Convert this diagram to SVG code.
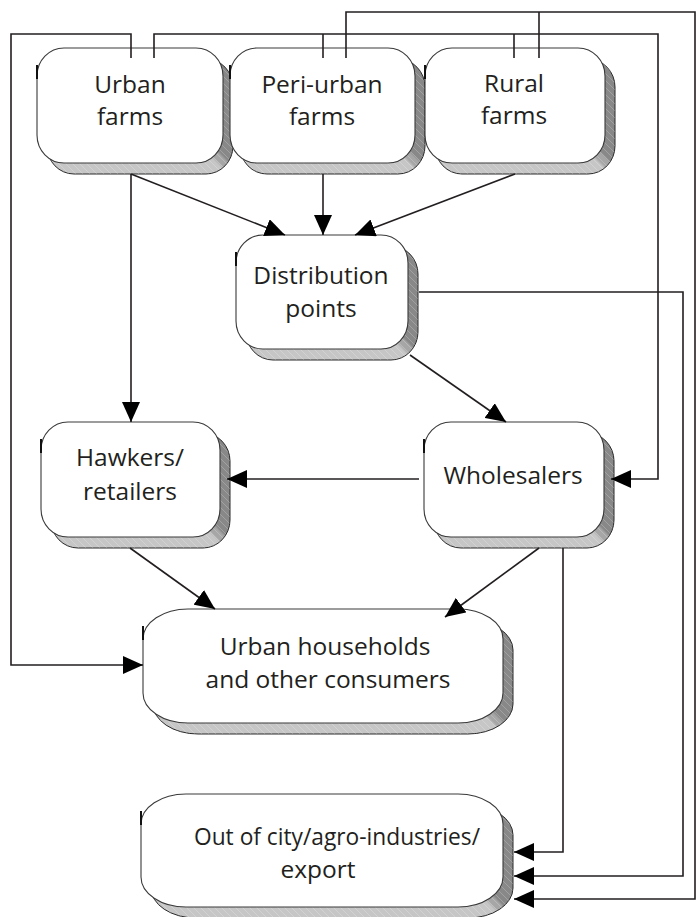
<svg xmlns="http://www.w3.org/2000/svg" width="696" height="917" viewBox="0 0 696 917">
<style>
.face{fill:#fff;stroke:#3a3a3a;stroke-width:1.1}
.sh{stroke:#2a2a2a;stroke-width:1}
.hat{fill:url(#hatch);stroke:none}
.tick{stroke:#111;stroke-width:2}
.t{font-family:"Open Sans","Liberation Sans",sans-serif;font-size:24.5px;fill:#231f20;text-anchor:middle}
.c{fill:none;stroke:#231f20;stroke-width:1.6}
.a{marker-end:url(#ah)}
.s1{stop-color:#c6c6c6}
.s2{stop-color:#a6a6a6}
.s3{stop-color:#888888}
</style>
<defs>
<marker id="ah" markerWidth="20" markerHeight="18" refX="20" refY="9" orient="auto" markerUnits="userSpaceOnUse"><path d="M0,0 L20,9 L0,18 z" fill="#000"/></marker>
<pattern id="hatch" width="7" height="7" patternUnits="userSpaceOnUse"><path d="M-1,-1 L8,8" stroke="#fff" stroke-width="0.6" opacity="0.35"/></pattern>
<linearGradient id="g1" gradientUnits="userSpaceOnUse" x1="206" y1="174" x2="234" y2="146"><stop offset="0.38" class="s1"/><stop offset="0.45" class="s2"/><stop offset="0.58" class="s2"/><stop offset="0.64" class="s3"/></linearGradient>
<linearGradient id="g2" gradientUnits="userSpaceOnUse" x1="398" y1="174" x2="426" y2="146"><stop offset="0.38" class="s1"/><stop offset="0.45" class="s2"/><stop offset="0.58" class="s2"/><stop offset="0.64" class="s3"/></linearGradient>
<linearGradient id="g3" gradientUnits="userSpaceOnUse" x1="588" y1="174" x2="616" y2="146"><stop offset="0.38" class="s1"/><stop offset="0.45" class="s2"/><stop offset="0.58" class="s2"/><stop offset="0.64" class="s3"/></linearGradient>
<linearGradient id="g4" gradientUnits="userSpaceOnUse" x1="391" y1="360" x2="419" y2="332"><stop offset="0.38" class="s1"/><stop offset="0.45" class="s2"/><stop offset="0.58" class="s2"/><stop offset="0.64" class="s3"/></linearGradient>
<linearGradient id="g5" gradientUnits="userSpaceOnUse" x1="203" y1="548" x2="231" y2="520"><stop offset="0.38" class="s1"/><stop offset="0.45" class="s2"/><stop offset="0.58" class="s2"/><stop offset="0.64" class="s3"/></linearGradient>
<linearGradient id="g6" gradientUnits="userSpaceOnUse" x1="587" y1="548" x2="615" y2="520"><stop offset="0.38" class="s1"/><stop offset="0.45" class="s2"/><stop offset="0.58" class="s2"/><stop offset="0.64" class="s3"/></linearGradient>
<linearGradient id="g7" gradientUnits="userSpaceOnUse" x1="481" y1="734" x2="509" y2="706"><stop offset="0.38" class="s1"/><stop offset="0.45" class="s2"/><stop offset="0.58" class="s2"/><stop offset="0.64" class="s3"/></linearGradient>
<linearGradient id="g8" gradientUnits="userSpaceOnUse" x1="481" y1="918" x2="509" y2="890"><stop offset="0.38" class="s1"/><stop offset="0.45" class="s2"/><stop offset="0.58" class="s2"/><stop offset="0.64" class="s3"/></linearGradient>
</defs>

<g id="urban-farms">
<rect class="sh" x="47" y="59" width="186" height="115" rx="27" ry="28" fill="url(#g1)"/>
<rect class="hat" x="47" y="59" width="186" height="115" rx="27" ry="28"/>
<rect class="face" x="37" y="48" width="186" height="115" rx="27" ry="28"/>
<line class="tick" x1="37" y1="65" x2="37" y2="79"/>
<text class="t" x="130" y="93">Urban</text>
<text class="t" x="130" y="125">farms</text>
</g>

<g id="peri-urban-farms">
<rect class="sh" x="240" y="59" width="185" height="115" rx="27" ry="28" fill="url(#g2)"/>
<rect class="hat" x="240" y="59" width="185" height="115" rx="27" ry="28"/>
<rect class="face" x="230" y="48" width="185" height="115" rx="27" ry="28"/>
<line class="tick" x1="230" y1="65" x2="230" y2="79"/>
<text class="t" x="322" y="93">Peri-urban</text>
<text class="t" x="322" y="125">farms</text>
</g>

<g id="rural-farms">
<rect class="sh" x="435" y="59" width="180" height="115" rx="27" ry="28" fill="url(#g3)"/>
<rect class="hat" x="435" y="59" width="180" height="115" rx="27" ry="28"/>
<rect class="face" x="425" y="48" width="180" height="115" rx="27" ry="28"/>
<line class="tick" x1="425" y1="65" x2="425" y2="79"/>
<text class="t" x="514" y="92">Rural</text>
<text class="t" x="514" y="124">farms</text>
</g>

<g id="distribution-points">
<rect class="sh" x="246" y="246" width="172" height="114" rx="27" ry="28" fill="url(#g4)"/>
<rect class="hat" x="246" y="246" width="172" height="114" rx="27" ry="28"/>
<rect class="face" x="236" y="235" width="172" height="114" rx="27" ry="28"/>
<line class="tick" x1="236" y1="252" x2="236" y2="266"/>
<text class="t" x="321" y="284">Distribution</text>
<text class="t" x="321" y="317">points</text>
</g>

<g id="hawkers-retailers">
<rect class="sh" x="51" y="433" width="179" height="115" rx="27" ry="28" fill="url(#g5)"/>
<rect class="hat" x="51" y="433" width="179" height="115" rx="27" ry="28"/>
<rect class="face" x="41" y="422" width="179" height="115" rx="27" ry="28"/>
<line class="tick" x1="41" y1="439" x2="41" y2="453"/>
<text class="t" x="130" y="466">Hawkers/</text>
<text class="t" x="130" y="500">retailers</text>
</g>

<g id="wholesalers">
<rect class="sh" x="434" y="433" width="180" height="115" rx="27" ry="28" fill="url(#g6)"/>
<rect class="hat" x="434" y="433" width="180" height="115" rx="27" ry="28"/>
<rect class="face" x="424" y="422" width="180" height="115" rx="27" ry="28"/>
<line class="tick" x1="424" y1="439" x2="424" y2="453"/>
<text class="t" x="513" y="484">Wholesalers</text>
</g>

<g id="urban-households">
<rect class="sh" x="153" y="620" width="360" height="114" rx="45" ry="30" fill="url(#g7)"/>
<rect class="hat" x="153" y="620" width="360" height="114" rx="45" ry="30"/>
<rect class="face" x="143" y="609" width="360" height="114" rx="45" ry="30"/>
<line class="tick" x1="143" y1="626" x2="143" y2="640"/>
<text class="t" x="325" y="655">Urban households</text>
<text class="t" x="328" y="688">and other consumers</text>
</g>

<g id="out-of-city">
<rect class="sh" x="151" y="805" width="362" height="113" rx="45" ry="30" fill="url(#g8)"/>
<rect class="hat" x="151" y="805" width="362" height="113" rx="45" ry="30"/>
<rect class="face" x="141" y="794" width="362" height="113" rx="45" ry="30"/>
<line class="tick" x1="141" y1="811" x2="141" y2="825"/>
<text class="t" x="337" y="845" textLength="286" lengthAdjust="spacingAndGlyphs">Out of city/agro-industries/</text>
<text class="t" x="318" y="878">export</text>
</g>

<g id="connectors">
<path class="c a" d="M131,174 L285,235"/>
<path class="c a" d="M323,174 L323,235"/>
<path class="c a" d="M515,174 L355,235"/>
<path class="c a" d="M131,174 L131,422"/>
<path class="c a" d="M410,355 L506,422"/>
<path class="c a" d="M419,479 L227,479"/>
<path class="c a" d="M130,548 L215,609"/>
<path class="c a" d="M539,548 L445,617"/>
<path class="c a" d="M563,548 L563,852 L514,852"/>
<path class="c a" d="M419,292 L683,292 L683,876 L514,876"/>
<path class="c a" d="M346,58 L346,12 L695,12 L695,899 L514,899"/>
<path class="c" d="M539,12 L539,58"/>
<path class="c a" d="M154,58 L154,34 L658,34 L658,479 L611,479"/>
<path class="c" d="M323,34 L323,58"/>
<path class="c" d="M514,34 L514,58"/>
<path class="c a" d="M131,58 L131,34 L11,34 L11,665 L143,665"/>
</g>
</svg>
